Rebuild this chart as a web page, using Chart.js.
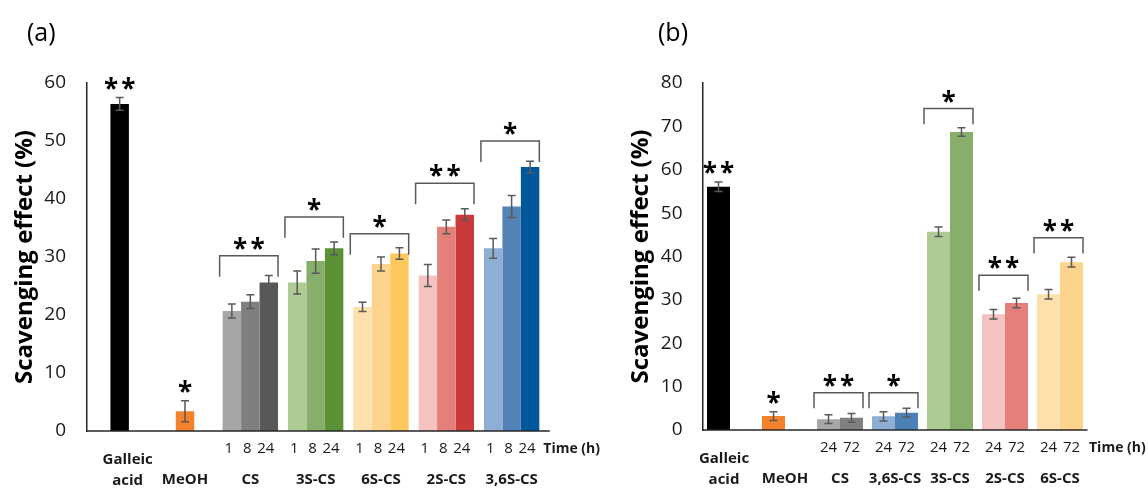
<!DOCTYPE html>
<html>
<head>
<meta charset="utf-8">
<title>Scavenging effect</title>
<script src="https://cdn.jsdelivr.net/npm/chart.js@4.4.1/dist/chart.umd.min.js"></script>
<style>
  html, body { margin: 0; padding: 0; background: #fff; }
  #wrap { position: relative; width: 1148px; height: 489px; overflow: hidden; }
  canvas { position: absolute; top: 0; }
  #chartA { left: 0; }
  #chartB { left: 590px; }
</style>
</head>
<body>
<div id="wrap">
  <canvas id="chartA" width="610" height="489"></canvas>
  <canvas id="chartB" width="558" height="489"></canvas>
</div>
<script>
const FONT = "'Open Sans', sans-serif";
const AXIS_COLOR = '#262626';
const ERR_COLOR = '#595959';

// ---- panel (a) : 1, 8, 24 h ----
// single controls (Galleic acid, MeOH) sit in the middle series, like in the Excel sheet
const catsA = ['Galleic acid', 'MeOH', 'CS', '3S-CS', '6S-CS', '2S-CS', '3,6S-CS'];
const timesA = ['1', '8', '24'];
const a1h  = [null, null, 20.7, 25.6, 21.4, 26.8, 31.5];
const a8h  = [56.4, 3.4, 22.3, 29.3, 28.8, 35.2, 38.7];
const a24h = [null, null, 25.6, 31.5, 30.6, 37.3, 45.5];
const a1hErr  = [null, null, 1.2, 2.0, 0.8, 1.9, 1.7];
const a8hErr  = [1.1, 1.8, 1.2, 2.1, 1.2, 1.2, 1.9];
const a24hErr = [null, null, 1.2, 1.1, 1.0, 1.0, 1.0];
const bracketA = [null, null, 30.2, 36.9, 34.0, 42.7, 50.0];
const starsA = [2, 1, 2, 1, 1, 2, 1];
const yTicksA = { min: 0, max: 60, step: 10 };

// ---- panel (b) : 24, 72 h ----
// single controls sit in the first series
const catsB = ['Galleic acid', 'MeOH', 'CS', '3,6S-CS', '3S-CS', '2S-CS', '6S-CS'];
const timesB = ['24', '72'];
const b24h = [56.1, 3.2, 2.5, 3.15, 45.7, 26.7, 31.3];
const b72h = [null, null, 2.8, 4.0, 68.7, 29.3, 38.7];
const b24hErr = [1.1, 1.0, 1.0, 1.05, 1.1, 1.1, 1.1];
const b72hErr = [null, null, 1.0, 1.0, 1.0, 1.1, 1.1];
const bracketB = [null, null, 8.6, 8.6, 74.1, 35.7, 44.3];
const starsB = [2, 1, 2, 1, 1, 2, 2];
const yTicksB = { min: 0, max: 80, step: 10 };

const BRACKET_LEG = 3.6; // leg length, in % units

const colA1  = ['#000', '#000', '#A6A6A6', '#ADCB93', '#FEE0AC', '#F4C2C1', '#8EAED3'];
const colA8  = ['#000000', '#F5812B', '#7F7F7F', '#88AE6B', '#FDD48E', '#E57F7A', '#5383B6'];
const colA24 = ['#000', '#000', '#585858', '#5C9236', '#FEC85E', '#CB3A3A', '#00579A'];
const colB24 = ['#000000', '#F5812B', '#A6A6A6', '#8EAED3', '#ADCB93', '#F4C2C1', '#FEE0AC'];
const colB72 = ['#000', '#000', '#808080', '#4C81B8', '#88AE6B', '#E57F7A', '#FDD48E'];

function drawStars(ctx, n, cx, cy) {
    ctx.font = 'bold 26px ' + FONT;
    ctx.textAlign = 'center';
    ctx.textBaseline = 'alphabetic';
    ctx.fillStyle = '#000';
    const gap = 17.4;
    for (let k = 0; k < n; k++) {
        const sx = cx + (k - (n - 1) / 2) * gap;
        ctx.fillText('*', sx, cy + 15);
    }
}

function annotations(cfg) {
    return {
        id: 'annotations',
        afterDatasetsDraw(chart) {
            const ctx = chart.ctx;
            const area = chart.chartArea;
            const xs = chart.scales.x, ys = chart.scales.y;
            ctx.save();

            // x axis line
            ctx.strokeStyle = AXIS_COLOR;
            ctx.lineWidth = 1.5;
            ctx.beginPath();
            ctx.moveTo(area.left, area.bottom);
            ctx.lineTo(area.right + cfg.axisExtra, area.bottom);
            ctx.stroke();

            // error bars
            ctx.strokeStyle = ERR_COLOR;
            ctx.lineWidth = 1.5;
            chart.data.datasets.forEach((ds, di) => {
                chart.getDatasetMeta(di).data.forEach((bar, i) => {
                    const v = ds.data[i], e = cfg.errors[di][i];
                    if (v == null || e == null) return;
                    const t = ys.getPixelForValue(v + e), b = ys.getPixelForValue(v - e);
                    ctx.beginPath();
                    ctx.moveTo(bar.x, t); ctx.lineTo(bar.x, b);
                    ctx.moveTo(bar.x - 4, t); ctx.lineTo(bar.x + 4, t);
                    ctx.moveTo(bar.x - 4, b); ctx.lineTo(bar.x + 4, b);
                    ctx.stroke();
                });
            });

            // brackets, stars, time labels, category names
            cfg.categories.forEach((name, i) => {
                const bars = [];
                chart.data.datasets.forEach((ds, di) => {
                    if (ds.data[i] != null) bars.push({ el: chart.getDatasetMeta(di).data[i], di: di, v: ds.data[i] });
                });
                const left = Math.min(...bars.map(b => b.el.x - b.el.width / 2));
                const right = Math.max(...bars.map(b => b.el.x + b.el.width / 2));

                if (cfg.brackets[i] != null) {
                    const top = ys.getPixelForValue(cfg.brackets[i]);
                    const leg = ys.getPixelForValue(cfg.brackets[i] - BRACKET_LEG);
                    const bl = left - 3, br = right;
                    ctx.strokeStyle = ERR_COLOR;
                    ctx.lineWidth = 1.5;
                    ctx.beginPath();
                    ctx.moveTo(bl, leg); ctx.lineTo(bl, top); ctx.lineTo(br, top); ctx.lineTo(br, leg);
                    ctx.stroke();
                    drawStars(ctx, cfg.stars[i], (bl + br) / 2, top - 13);
                } else {
                    const b = bars[0];
                    const e = cfg.errors[b.di][i] || 0;
                    drawStars(ctx, cfg.stars[i], b.el.x, ys.getPixelForValue(b.v + e) - 15);
                }

                ctx.fillStyle = '#1a1a1a';
                ctx.textBaseline = 'middle';
                ctx.textAlign = 'center';
                if (bars.length > 1) {
                    ctx.font = '15px ' + FONT;
                    bars.forEach(b => ctx.fillText(cfg.times[b.di], b.el.x - cfg.timeShift, area.bottom + 18));
                }
                ctx.font = 'bold 15px ' + FONT;
                const cx = xs.getPixelForValue(i);
                const words = name.split(' ');
                if (words.length > 1) {
                    ctx.fillText(words[0], cx + cfg.firstShift, area.bottom + 29);
                    ctx.fillText(words[1], cx + cfg.firstShift, area.bottom + 50);
                } else {
                    ctx.fillText(name, cx, area.bottom + 49);
                }
            });

            ctx.font = 'bold 14px ' + FONT;
            ctx.textAlign = 'left';
            ctx.fillText('Time (h)', area.right + cfg.timeX, area.bottom + 18);

            // panel letter
            ctx.font = '25px ' + FONT;
            ctx.fillStyle = '#000';
            ctx.fillText(cfg.letter, cfg.letterX, 34);
            ctx.restore();
        }
    };
}

function makeChart(id, labels, series, colors, ticks, layout, plug) {
    return new Chart(document.getElementById(id), {
        type: 'bar',
        data: {
            labels: labels,
            datasets: series.map((s, k) => ({
                data: s,
                backgroundColor: colors[k],
                borderWidth: 0,
                categoryPercentage: layout.catPct,
                barPercentage: 1
            }))
        },
        options: {
            responsive: false,
            animation: false,
            layout: { padding: layout.padding },
            plugins: { legend: { display: false }, tooltip: { enabled: false } },
            scales: {
                x: { display: false },
                y: {
                    min: ticks.min, max: ticks.max,
                    ticks: { stepSize: ticks.step, padding: layout.tickPad, color: '#1a1a1a', font: { family: FONT, size: 19 } },
                    grid: { display: false, drawTicks: false },
                    border: { display: true, color: AXIS_COLOR, width: 1.5 },
                    title: {
                        display: true, text: 'Scavenging effect (%)', color: '#000',
                        font: { family: FONT, size: 24, weight: 'bold' },
                        padding: { top: 10.5, bottom: 0 }
                    },
                    afterFit(s) { s.width = layout.yWidth; }
                }
            }
        },
        plugins: [plug]
    });
}

makeChart('chartA', catsA, [a1h, a8h, a24h], [colA1, colA8, colA24], yTicksA,
    { catPct: 0.848, padding: { left: 0, right: 65.7, top: 83, bottom: 58 }, yWidth: 87, tickPad: 21 },
    annotations({
        categories: catsA, errors: [a1hErr, a8hErr, a24hErr], brackets: bracketA, stars: starsA,
        times: timesA, timeShift: 3, firstShift: 8, timeX: -1, axisExtra: 5.5, letter: '(a)', letterX: 27
    }));

makeChart('chartB', catsB, [b24h, b72h], [colB24, colB72], yTicksB,
    { catPct: 0.836, padding: { left: 26, right: 60.5, top: 83, bottom: 59 }, yWidth: 86.5, tickPad: 20 },
    annotations({
        categories: catsB, errors: [b24hErr, b72hErr], brackets: bracketB, stars: starsB,
        times: timesB, timeShift: 0, firstShift: -6, timeX: 1.5, axisExtra: 0, letter: '(b)', letterX: 68
    }));
</script>
</body>
</html>
